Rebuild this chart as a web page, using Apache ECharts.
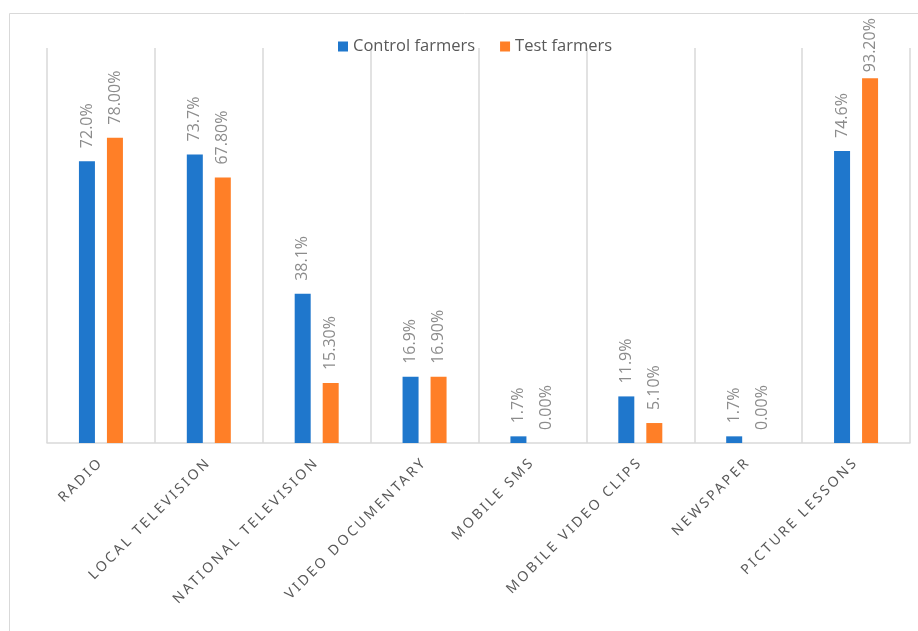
<!DOCTYPE html>
<html>
<head>
<meta charset="utf-8">
<script src="https://cdn.jsdelivr.net/npm/echarts@6/dist/echarts.min.js"></script>
<style>html,body{margin:0;padding:0;background:#fff}#c{width:918px;height:631px}</style>
</head>
<body>
<div id="c"></div>
<script>
const categories = ["RADIO","LOCAL TELEVISION","NATIONAL TELEVISION","VIDEO DOCUMENTARY","MOBILE SMS","MOBILE VIDEO CLIPS","NEWSPAPER","PICTURE LESSONS"];
const controlFarmers = [72.0, 73.7, 38.1, 16.9, 1.7, 11.9, 1.7, 74.6];
const testFarmers = [78.00, 67.80, 15.30, 16.90, 0.00, 5.10, 0.00, 93.20];
const seriesNames = ["Control farmers", "Test farmers"];

// letter spacing only for the category labels (drawn in Noto Sans only)
(function () {
  const P = CanvasRenderingContext2D.prototype;
  const origFill = P.fillText;
  function setSpacing(ctx, v) {
    if (!('letterSpacing' in ctx)) return;
    const f = ctx.font;
    ctx.letterSpacing = v;
    ctx.font = '10px serif';
    ctx.font = f;
  }
  P.fillText = function (t, x, y, w) {
    const spaced = this.font && this.font.indexOf('Noto Sans') >= 0;
    setSpacing(this, spaced ? '2.6px' : '0px');
    const r = w === undefined ? origFill.call(this, t, x, y) : origFill.call(this, t, x, y, w);
    if (spaced) setSpacing(this, '0px');
    return r;
  };
})();

const chart = echarts.init(document.getElementById('c'), null, {renderer: 'canvas'});
const labelStyle = (dec) => ({
  show: true, position: 'top', rotate: 90, align: 'left', verticalAlign: 'middle',
  distance: 13, color: '#8c8c8c', fontSize: 16, fontFamily: 'Open Sans',
  formatter: p => p.value.toFixed(dec) + '%'
});
// labels that would leave the chart area are kept inside (as in the original)
const toItems = arr => arr.map(v => v > 90 ? {value: v, label: {distance: 6}} : v);
chart.setOption({
  animation: false,
  graphic: [{type: 'rect', shape: {x: 9.5, y: 13.5, width: 940, height: 660}, style: {fill: 'none', stroke: '#d9d9d9', lineWidth: 1}, silent: true, z: -1}],
  legend: {
    top: 33, left: 333, itemWidth: 10, itemHeight: 10, itemGap: 25, icon: 'rect',
    textStyle: {color: '#595959', fontSize: 16.5, fontFamily: 'Open Sans'},
    data: seriesNames
  },
  grid: {left: 47, right: 8, top: 48, bottom: 188, containLabel: false},
  xAxis: {
    type: 'category', data: categories,
    axisLine: {show: true, lineStyle: {color: '#d9d9d9', width: 1.5}},
    axisTick: {show: false},
    splitLine: {show: true, lineStyle: {color: '#d9d9d9', width: 1.5}},
    axisLabel: {rotate: 45, margin: 17, color: '#595959', fontSize: 14, fontFamily: 'Noto Sans', interval: 0}
  },
  yAxis: {type: 'value', min: 0, max: 100.9, show: false},
  series: [
    {name: seriesNames[0], type: 'bar', data: toItems(controlFarmers), barWidth: 16, barGap: '75%', itemStyle: {color: '#1f77cc'}, label: labelStyle(1)},
    {name: seriesNames[1], type: 'bar', data: toItems(testFarmers), barWidth: 16, itemStyle: {color: '#ff7f27'}, label: labelStyle(2)}
  ]
});
</script>
</body>
</html>
